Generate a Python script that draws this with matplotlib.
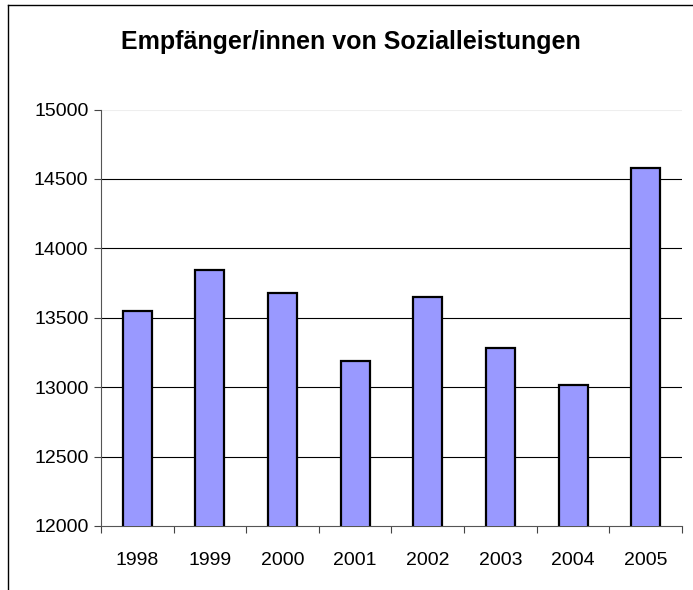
import matplotlib
matplotlib.use("Agg")
import matplotlib.pyplot as plt
from matplotlib.lines import Line2D
import numpy as np

years = ["1998", "1999", "2000", "2001", "2002", "2003", "2004", "2005"]
recipients = [13545, 13845, 13678, 13185, 13648, 13280, 13012, 14580]
y_ticks = [12000, 12500, 13000, 13500, 14000, 14500, 15000]

plt.rcParams['font.family'] = ['Liberation Sans', 'DejaVu Sans']

fig = plt.figure(figsize=(6.93, 5.9), dpi=100)
ax = fig.add_axes([0.1457, 0.1085, 0.8384, 0.7059])

x = np.arange(len(years))
ax.bar(x, recipients, width=0.4, color="#9999FF", edgecolor="black", linewidth=1.6, zorder=3)

ax.set_ylim(12000, 15000)
ax.set_xlim(-0.5, len(years) - 0.5)
ax.set_yticks(y_ticks)
ax.set_yticklabels([str(v) for v in y_ticks], fontsize=14)
for v in y_ticks[1:-1]:
    ax.axhline(v, color="black", linewidth=0.8, zorder=1)
ax.axhline(y_ticks[-1], color="#eeeeee", linewidth=0.8, zorder=1)

ax.set_xticks(np.arange(-0.5, len(years), 1.0))
ax.set_xticklabels([])
ax.set_xticks(x, minor=True)
ax.set_xticklabels(years, minor=True, fontsize=14)
ax.tick_params(axis="x", which="minor", length=0, pad=19)
ax.tick_params(axis="x", which="major", length=5, width=0.8, color="#444444")
ax.tick_params(axis="y", length=5, width=0.8, color="#444444", pad=4)

for s in ["top", "right"]:
    ax.spines[s].set_visible(False)
ax.spines["left"].set_color("#555555")
ax.spines["bottom"].set_color("#555555")

fig.text(0.507, 0.928, "Empfänger/innen von Sozialleistungen", ha="center", va="center",
         fontsize=18, fontweight="bold")

# outer chart frame
fig.add_artist(Line2D([8 / 693, 8 / 693], [0, 1 - 5 / 590], transform=fig.transFigure, color="black", linewidth=1))
fig.add_artist(Line2D([8 / 693, 1], [1 - 5 / 590, 1 - 5 / 590], transform=fig.transFigure, color="black", linewidth=1))

fig.savefig("out.png", dpi=100)
